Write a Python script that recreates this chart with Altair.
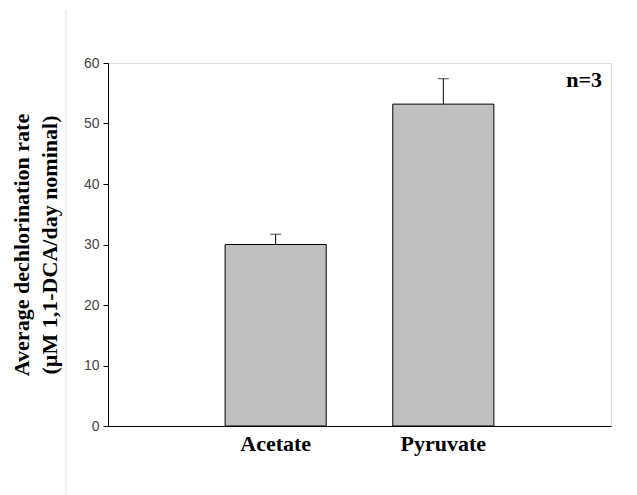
import altair as alt
import pandas as pd

categories = ["Acetate", "Pyruvate"]
means = [30.0, 53.2]
errors = [1.7, 4.2]
y_ticks = [0, 10, 20, 30, 40, 50, 60]
y_title = ["Average dechlorination rate", "(µM 1,1-DCA/day nominal)"]
note = "n=3"

df = pd.DataFrame({"substrate": categories, "rate": means, "err": errors})
df["upper"] = df["rate"] + df["err"]

W, H = 503, 363

x_enc = alt.X(
    "substrate:N",
    sort=categories,
    scale=alt.Scale(paddingInner=0.397, paddingOuter=0.6985),
    axis=alt.Axis(
        title=None, labelAngle=0, ticks=False,
        labelFont="Liberation Serif", labelFontWeight="bold", labelFontSize=22,
        labelColor="black", domainColor="black", domainWidth=1, labelPadding=7,
    ),
)
y_scale = alt.Scale(domain=[0, 60], nice=False)

base = alt.Chart(df)

bars = base.mark_bar(color="#c0c0c0", stroke="black", strokeWidth=1).encode(
    x=x_enc,
    y=alt.Y(
        "rate:Q",
        scale=y_scale,
        axis=alt.Axis(
            values=y_ticks, grid=False, title=y_title,
            labelFont="Liberation Sans", labelFontSize=14, labelColor="#444444",
            labelPadding=4, tickSize=5, tickColor="black", domainColor="black",
            titleFont="Liberation Serif", titleFontWeight="bold", titleFontSize=22,
            titleColor="black", titleAngle=-90, titleX=-86.5, titleY=H / 2,
            titleAlign="center", titleBaseline="middle", titleLineHeight=28,
        ),
    ),
)

err_line = base.mark_rule(color="black", strokeWidth=1).encode(
    x=alt.X("substrate:N", sort=categories),
    y="rate:Q",
    y2="upper:Q",
)

err_cap = base.mark_tick(color="black", thickness=1, size=11, orient="horizontal").encode(
    x=alt.X("substrate:N", sort=categories),
    y="upper:Q",
)

label = alt.Chart(pd.DataFrame({"t": [note]})).mark_text(
    font="Liberation Serif", fontWeight="bold", fontSize=22, color="black",
    align="right", baseline="alphabetic",
).encode(x=alt.value(W - 9), y=alt.value(24), text="t:N")

sep = alt.Chart(pd.DataFrame({"a": [0]})).mark_rule(color="#e0e0e0", strokeWidth=1).encode(
    x=alt.value(66 - 108), y=alt.value(10 - 63), y2=alt.value(495 - 63)
)

chart = (
    alt.layer(sep, bars, err_line, err_cap, label)
    .properties(width=W, height=H, autosize=alt.AutoSizeParams(type="none"),
                padding={"left": 108, "top": 63, "right": 26, "bottom": 69})
    .configure_view(stroke="black", strokeWidth=1)
    .configure(background="white")
)

chart.save("out.html", embed_options={"renderer": "svg", "actions": False})
